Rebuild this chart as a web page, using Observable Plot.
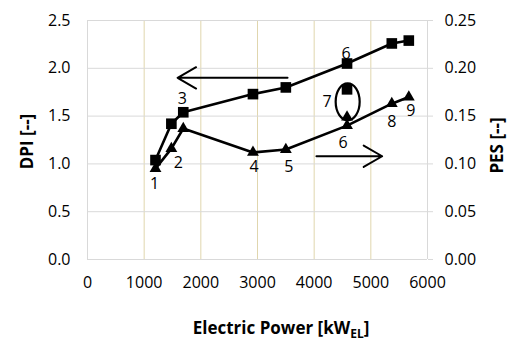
<!DOCTYPE html>
<html>
<head>
<meta charset="utf-8">
<script src="https://cdn.jsdelivr.net/npm/d3@7"></script>
<script src="https://cdn.jsdelivr.net/npm/@observablehq/plot@0.6"></script>
<style>
  html, body { margin: 0; padding: 0; background: #fff; }
  #chart svg { display: block; }
</style>
</head>
<body>
<div id="chart"></div>
<script>
// Operating points (kW_EL) — 1..9
const pointIds = [1, 2, 3, 4, 5, 6, 7, 8, 9];
const power    = [1200, 1480, 1690, 2920, 3500, 4580, 4580, 5370, 5670];
const dpi      = [1.04, 1.42, 1.54, 1.73, 1.80, 2.05, 1.78, 2.26, 2.29];
const pes      = [0.095, 0.116, 0.137, 0.112, 0.115, 0.140, 0.149, 0.163, 0.170];
// Point 7 is plotted on its own (circled), not part of the connected lines
const isolatedId = 7;

const xTicks = [0, 1000, 2000, 3000, 4000, 5000, 6000];
const dpiTicks = [0, 0.5, 1.0, 1.5, 2.0, 2.5];
const pesTicks = [0, 0.05, 0.10, 0.15, 0.20, 0.25];
const pesToDpi = 10; // right axis 0.25 aligns with left axis 2.5

// Arrows (direction annotations)
const arrowsData = [
  {x1: 3530, x2: 1590, y: 1.90},   // DPI: read leftwards
  {x1: 4040, x2: 5200, y: 1.08}    // PES: read rightwards
];
// Ellipse around point 7
const ellipseData = [{x: 4600, y: 1.645}];

const rows = pointIds.map((id, i) => ({id, power: power[i], dpi: dpi[i], pes: pes[i] * pesToDpi}));
const linked = rows.filter(d => d.id !== isolatedId);

// Number labels: which series and which point, with text offsets
const labelSpec = [
  {id: 1, s: "pes", dx: -1, dy: 15},
  {id: 2, s: "pes", dx: 7, dy: 14},
  {id: 3, s: "dpi", dx: -1, dy: -13},
  {id: 4, s: "pes", dx: 1, dy: 14},
  {id: 5, s: "pes", dx: 3, dy: 17},
  {id: 6, s: "dpi", dx: -1, dy: -10},
  {id: 6, s: "pes", dx: -4, dy: 17},
  {id: 7, s: "dpi", dx: -20, dy: 13},
  {id: 8, s: "pes", dx: 0, dy: 18},
  {id: 9, s: "pes", dx: 2, dy: 14}
];
const labelMarks = labelSpec.map(l => {
  const r = rows.find(d => d.id === l.id);
  return Plot.text([{text: String(l.id), x: r.power, y: r[l.s]}],
    {x: "x", y: "y", text: "text", dx: l.dx, dy: l.dy, fill: "#000", fontSize: 16});
});

const FONT = "'Open Sans', sans-serif";

function titles(index, scales, values, dimensions) {
  const g = d3.create("svg:g").attr("font-family", FONT).attr("font-weight", "bold").attr("font-size", 17).attr("fill", "#000");
  const {height, marginTop, marginBottom} = dimensions;
  const cy = (marginTop + height - marginBottom) / 2;
  g.append("text").attr("text-anchor", "middle").attr("transform", `translate(27,${cy + 2}) rotate(-90)`).attr("dy", "0.35em").text("DPI [--]");
  g.append("text").attr("text-anchor", "middle").attr("transform", `translate(497,${cy + 6}) rotate(-90)`).attr("dy", "0.35em").text("PES [--]");
  const t = g.append("text").attr("text-anchor", "middle").attr("x", 281).attr("y", 334);
  t.append("tspan").text("Electric Power [kW");
  t.append("tspan").attr("font-size", 12).attr("dy", 4).text("EL");
  t.append("tspan").attr("dy", -4).text("]");
  return g.node();
}

function ellipse(index, scales) {
  const g = d3.create("svg:g");
  for (const e of ellipseData) {
    g.append("ellipse").attr("cx", scales.x(e.x)).attr("cy", scales.y(e.y))
      .attr("rx", 12).attr("ry", 18.5).attr("fill", "none").attr("stroke", "#000").attr("stroke-width", 2.2);
  }
  return g.node();
}

const chart = Plot.plot({
  width: 516,
  height: 359,
  marginLeft: 87,
  marginRight: 89,
  marginTop: 20,
  marginBottom: 100,
  style: {fontFamily: FONT, fontSize: "16px", color: "#000", background: "#fff"},
  x: {domain: [0, 6000]},
  y: {domain: [0, 2.5]},
  marks: [
    Plot.gridX(xTicks.filter(d => d > 0 && d < 6000), {stroke: "#e0d6ae", strokeOpacity: 1}),
    Plot.gridY(dpiTicks, {stroke: "#d9d9d9", strokeOpacity: 1}),
    Plot.ruleX([0, 6000], {stroke: "#d9d9d9"}),
    Plot.axisX(xTicks, {tickSize: 0, tickPadding: 17, label: null, tickFormat: d => String(d), fontSize: 16}),
    Plot.axisY(dpiTicks, {anchor: "left", tickSize: 0, tickPadding: 17, label: null, tickFormat: d => d.toFixed(1), fontSize: 16}),
    Plot.axisY(pesTicks.map(d => d * pesToDpi), {anchor: "right", tickSize: 5, tickPadding: 12, stroke: "#d9d9d9", label: null, tickFormat: d => (d / pesToDpi).toFixed(2), fontSize: 16}),
    Plot.line(linked, {x: "power", y: "dpi", stroke: "#000", strokeWidth: 2.6}),
    Plot.line(linked, {x: "power", y: "pes", stroke: "#000", strokeWidth: 2.6}),
    Plot.dot(rows, {x: "power", y: "dpi", symbol: "square", r: 6, fill: "#000", stroke: "none"}),
    Plot.dot(rows, {x: "power", y: "pes", symbol: "triangle", r: 4.4, fill: "#000", stroke: "none"}),
    ellipse,
    Plot.arrow(arrowsData, {x1: "x1", x2: "x2", y1: "y", y2: "y", stroke: "#000", strokeWidth: 2, headLength: 16, headAngle: 60}),
    ...labelMarks,
    titles
  ]
});
document.getElementById("chart").append(chart);
</script>
</body>
</html>
